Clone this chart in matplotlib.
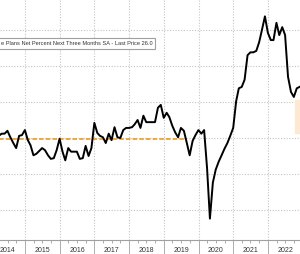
import matplotlib
matplotlib.use("Agg")
import matplotlib.pyplot as plt
import matplotlib.dates as mdates
import matplotlib.transforms as mtransforms
import pandas as pd
from matplotlib.patches import Rectangle

# monthly hiring plans (month-end), starting Mar 2014
start_month = "2014-03-31"
hiring_plans = [
    15.3, 15.6, 15.6, 16.0, 15.1, 14.3, 13.6, 15.3, 15.4, 16.1,
    14.7, 14.0, 12.6, 12.8, 13.2, 13.6, 13.3, 12.6, 12.1, 12.2,
    13.3, 14.9, 13.1, 11.9, 13.6, 13.1, 13.1, 13.1, 12.1, 12.2,
    13.9, 12.5, 13.6, 17.1, 15.7, 15.3, 15.1, 14.3, 15.6, 14.7,
    16.5, 15.1, 15.0, 16.1, 16.4, 16.4, 16.5, 16.9, 17.5, 16.4,
    18.1, 17.2, 17.2, 17.2, 17.2, 19.2, 19.6, 17.8, 18.5, 17.9,
    16.7, 15.8, 15.1, 16.4, 16.0, 14.3, 12.6, 14.6, 15.4, 16.1,
    15.6, 16.1, 10.8, 3.8, 8.8, 10.6, 11.7, 12.6, 13.5, 14.3,
    15.3, 16.4, 20.1, 21.9, 22.1, 23.1, 26.5, 26.9, 26.9, 27.1,
    28.3, 30.1, 31.9, 29.6, 28.6, 28.6, 31.0, 29.3, 30.4, 29.3,
    23.5, 21.4, 20.7, 21.9, 22.1,
]

# pre-covid average line
avg_level = 14.8
avg_start, avg_end = "2013-06-30", "2019-08-31"

years = list(range(2014, 2023))
legend_text = "e Plans Net Percent Next Three Months SA - Last Price 26.0"

dates = pd.date_range(start_month, periods=len(hiring_plans), freq="ME")

plt.rcParams["font.family"] = ["Liberation Sans Narrow", "Liberation Sans", "DejaVu Sans"]

fig = plt.figure(figsize=(3.0, 2.54), dpi=100)
ax = fig.add_axes([0, 14 / 254, 1, 240 / 254])

ax.plot([pd.Timestamp(avg_start), pd.Timestamp(avg_end)], [avg_level, avg_level],
        color="#f0a030", lw=1.3, dashes=(2.5, 1.2), zorder=3)
ax.plot(dates, hiring_plans, color="black", lw=1.4, zorder=4)

ax.set_xlim(pd.Timestamp("2014-04-13"), pd.Timestamp("2022-12-04"))
ax.set_ylim(0.83, 34.17)

# grid
ax.set_yticks([5, 10, 15, 20, 25, 30])
ax.yaxis.grid(True, linestyle=(0, (1, 1.5)), color="#c4c4c4", lw=0.8)
ax.xaxis.set_major_locator(mdates.YearLocator())
ax.xaxis.set_minor_locator(mdates.MonthLocator(bymonth=[4, 7, 10]))
ax.xaxis.grid(True, which="major", linestyle=(0, (1, 1.5)), color="#c4c4c4", lw=0.8)
ax.set_axisbelow(True)

ax.tick_params(axis="y", left=False, labelleft=False)
ax.tick_params(axis="x", which="major", length=10, width=0.6, color="#a0a0a0", labelbottom=False)
ax.tick_params(axis="x", which="minor", length=2, width=0.6, color="#a0a0a0")
for s in ["left", "right", "top"]:
    ax.spines[s].set_visible(False)
ax.spines["bottom"].set_color("#a0a0a0")
ax.spines["bottom"].set_linewidth(0.8)

# year labels in the middle of each year
trans = mtransforms.blended_transform_factory(ax.transData, ax.transAxes)
for y in years:
    ax.text(pd.Timestamp(f"{y}-07-01"), -0.042, str(y), transform=trans,
            ha="center", va="center", fontsize=5, color="#333333")

# last price tag (cut off at right edge)
fig.patches.append(Rectangle((295 / 300, (254 - 133) / 254), 10 / 300, 33 / 254,
                             transform=fig.transFigure, color="#fde9d3", zorder=0))

# legend box, cut off on the left
fig.text(1 / 300, 1 - 43.5 / 254, legend_text, ha="left", va="center",
         fontsize=4.1, color="#333333",
         bbox=dict(boxstyle="square,pad=0.5", fc="white", ec="#a0a0a0", lw=0.8))

fig.savefig("out.png", dpi=100)
